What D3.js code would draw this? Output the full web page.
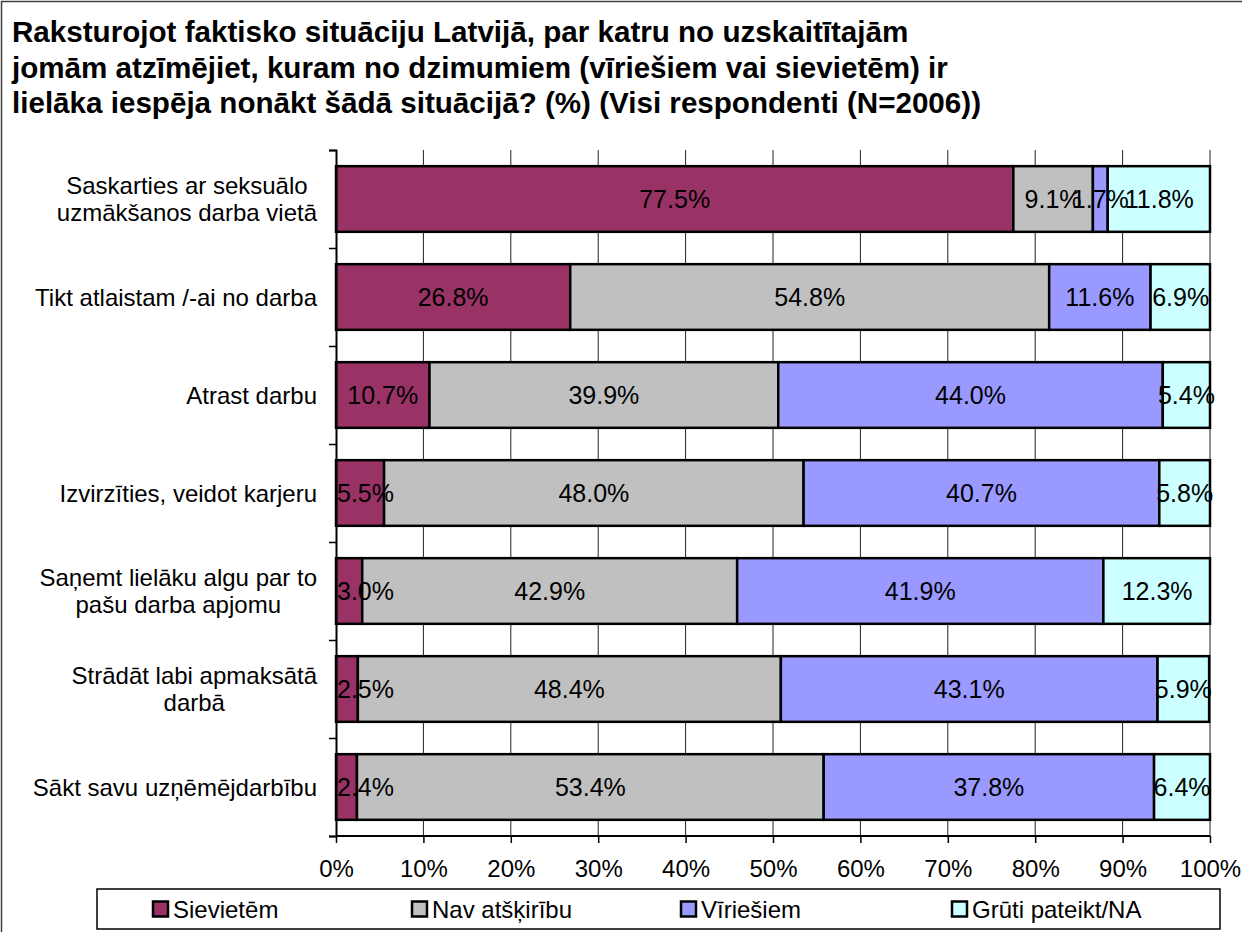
<!DOCTYPE html>
<html>
<head>
<meta charset="utf-8">
<script src="https://cdn.jsdelivr.net/npm/d3@7.9.0/dist/d3.min.js"></script>
<style>
  body { margin: 0; background: #fff; }
  svg { display: block; font-family: Arial, "Liberation Sans", sans-serif; }
</style>
</head>
<body>
<div id="chart"></div>
<script>
const titleLines = [
    'Raksturojot faktisko situāciju Latvijā, par katru no uzskaitītajām',
    'jomām atzīmējiet, kuram no dzimumiem (vīriešiem vai sievietēm) ir',
    'lielāka iespēja nonākt šādā situācijā? (%) (Visi respondenti (N=2006))',
];

const categories = [
    'Saskarties ar seksuālo\nuzmākšanos darba vietā',
    'Tikt atlaistam /-ai no darba',
    'Atrast darbu',
    'Izvirzīties, veidot karjeru',
    'Saņemt lielāku algu par to\npašu darba apjomu',
    'Strādāt labi apmaksātā\ndarbā',
    'Sākt savu uzņēmējdarbību',
];

const seriesNames = ['Sievietēm', 'Nav atšķirību', 'Vīriešiem', 'Grūti pateikt/NA'];
const seriesColors = ['#993366', '#C0C0C0', '#9999FF', '#CCFFFF'];

const women   = [77.5, 26.8, 10.7, 5.5, 3.0, 2.5, 2.4];
const noDiff  = [9.1, 54.8, 39.9, 48.0, 42.9, 48.4, 53.4];
const men     = [1.7, 11.6, 44.0, 40.7, 41.9, 43.1, 37.8];
const hardSay = [11.8, 6.9, 5.4, 5.8, 12.3, 5.9, 6.4];

const xTicks = [0, 10, 20, 30, 40, 50, 60, 70, 80, 90, 100];

const width = 1242;
const height = 932;
const plot = { left: 336, right: 1210, top: 150, bottom: 836 };

const rows = categories.map((c, i) => ({
    cat: c,
    values: [women[i], noDiff[i], men[i], hardSay[i]],
}));

const svg = d3.select('#chart')
    .append('svg')
    .attr('width', width)
    .attr('height', height);

svg.append('rect')
    .attr('width', width).attr('height', height)
    .attr('fill', '#fff');

// outer frame (right/bottom edges fall outside the picture)
svg.append('rect')
    .attr('x', 1.5).attr('y', 1.5)
    .attr('width', width + 10).attr('height', height + 10)
    .attr('fill', 'none')
    .attr('stroke', '#404040')
    .attr('stroke-width', 1.5);

// title
svg.append('g')
    .selectAll('text')
    .data(titleLines)
    .join('text')
    .attr('x', 12)
    .attr('y', (d, i) => 42 + i * 35.5)
    .attr('font-size', 29.6)
    .attr('font-weight', 'bold')
    .attr('fill', '#000')
    .text((d) => d);

const xScale = d3.scaleLinear().domain([0, 100]).range([plot.left, plot.right]);
const yScale = d3.scaleBand()
    .domain(categories)
    .range([plot.top, plot.bottom])
    .paddingInner(0.33)
    .paddingOuter(0.165);
const yEdges = d3.scaleLinear().domain([0, categories.length]).range([plot.top, plot.bottom]);

// gridlines
svg.append('g')
    .selectAll('line')
    .data(xTicks.filter((t) => t > 0 && t < 100))
    .join('line')
    .attr('x1', (d) => xScale(d)).attr('x2', (d) => xScale(d))
    .attr('y1', plot.top).attr('y2', plot.bottom)
    .attr('stroke', '#222')
    .attr('stroke-width', 1);

svg.append('line')
    .attr('x1', plot.right).attr('x2', plot.right)
    .attr('y1', plot.top).attr('y2', plot.bottom)
    .attr('stroke', '#909090')
    .attr('stroke-width', 2);

// bars
const stackRows = rows.map((r) => {
    let acc = 0;
    return r.values.map((v, k) => {
        const x0 = acc;
        acc = Math.min(100, acc + v);
        return { cat: r.cat, k, v, x0, x1: acc };
    });
});

svg.append('g')
    .selectAll('g')
    .data(stackRows)
    .join('g')
    .selectAll('rect')
    .data((d) => d)
    .join('rect')
    .attr('x', (d) => xScale(d.x0))
    .attr('y', (d) => yScale(d.cat))
    .attr('width', (d) => xScale(d.x1) - xScale(d.x0))
    .attr('height', yScale.bandwidth())
    .attr('fill', (d) => seriesColors[d.k])
    .attr('stroke', '#000')
    .attr('stroke-width', 2.5);

// value labels, kept inside the plot's left edge like Excel does
svg.append('g')
    .selectAll('text')
    .data(stackRows.flat())
    .join('text')
    .attr('y', (d) => yScale(d.cat) + yScale.bandwidth() / 2)
    .attr('dy', '0.36em')
    .attr('text-anchor', 'middle')
    .attr('font-size', 25)
    .attr('fill', '#000')
    .text((d) => d.v.toFixed(1) + '%')
    .attr('x', function (d) {
        const cx = xScale(d.x0 + d.v / 2);
        const w = this.getComputedTextLength();
        return Math.max(cx, plot.left + 1 + w / 2);
    });

// y axis with ticks at category boundaries
const yAxis = svg.append('g')
    .attr('transform', `translate(${plot.left},0)`)
    .call(d3.axisLeft(yEdges).tickValues(d3.range(categories.length + 1)).tickSize(7).tickFormat(''));
yAxis.select('.domain').attr('stroke', '#000').attr('stroke-width', 2);
yAxis.selectAll('.tick line').attr('stroke', '#000').attr('stroke-width', 1.5);

// x axis
const xAxis = svg.append('g')
    .attr('transform', `translate(0,${plot.bottom})`)
    .call(d3.axisBottom(xScale).tickValues(xTicks).tickSize(7).tickPadding(17).tickFormat((d) => d + '%'));
xAxis.select('.domain').attr('stroke', '#000').attr('stroke-width', 2).attr('d', `M${plot.left},0H${plot.right}`);
xAxis.selectAll('.tick line').attr('stroke', '#000').attr('stroke-width', 1.5);
xAxis.selectAll('.tick text')
    .attr('font-size', 24)
    .attr('font-family', 'Arial, "Liberation Sans", sans-serif')
    .attr('fill', '#000');

// category labels
const labelRight = 317;
const catG = svg.append('g');
categories.forEach((c) => {
    const lines = c.split('\n');
    const t = catG.append('text')
        .attr('font-size', 24)
        .attr('fill', '#000')
        .attr('text-anchor', 'middle');
    const cy = yScale(c) + yScale.bandwidth() / 2;
    const lh = 27.5;
    lines.forEach((ln, j) => {
        t.append('tspan')
            .attr('y', cy + (j - (lines.length - 1) / 2) * lh)
            .attr('dy', '0.36em')
            .text(ln);
    });
    let maxW = 0;
    t.selectAll('tspan').each(function () {
        maxW = Math.max(maxW, this.getComputedTextLength());
    });
    t.selectAll('tspan').attr('x', labelRight - maxW / 2);
});

// legend
const legend = svg.append('g');
legend.append('rect')
    .attr('x', 97).attr('y', 889)
    .attr('width', 1123).attr('height', 40)
    .attr('fill', '#fff')
    .attr('stroke', '#000')
    .attr('stroke-width', 1.5);

const legendX = [153, 412, 681, 952];
const items = legend.selectAll('g')
    .data(seriesNames)
    .join('g')
    .attr('transform', (d, i) => `translate(${legendX[i]},909)`);
items.append('rect')
    .attr('x', 0).attr('y', -7.5)
    .attr('width', 15).attr('height', 15)
    .attr('fill', (d, i) => seriesColors[i])
    .attr('stroke', '#000')
    .attr('stroke-width', 2.5);
items.append('text')
    .attr('x', 20)
    .attr('dy', '0.36em')
    .attr('font-size', 24)
    .attr('fill', '#000')
    .text((d) => d);
</script>
</body>
</html>
